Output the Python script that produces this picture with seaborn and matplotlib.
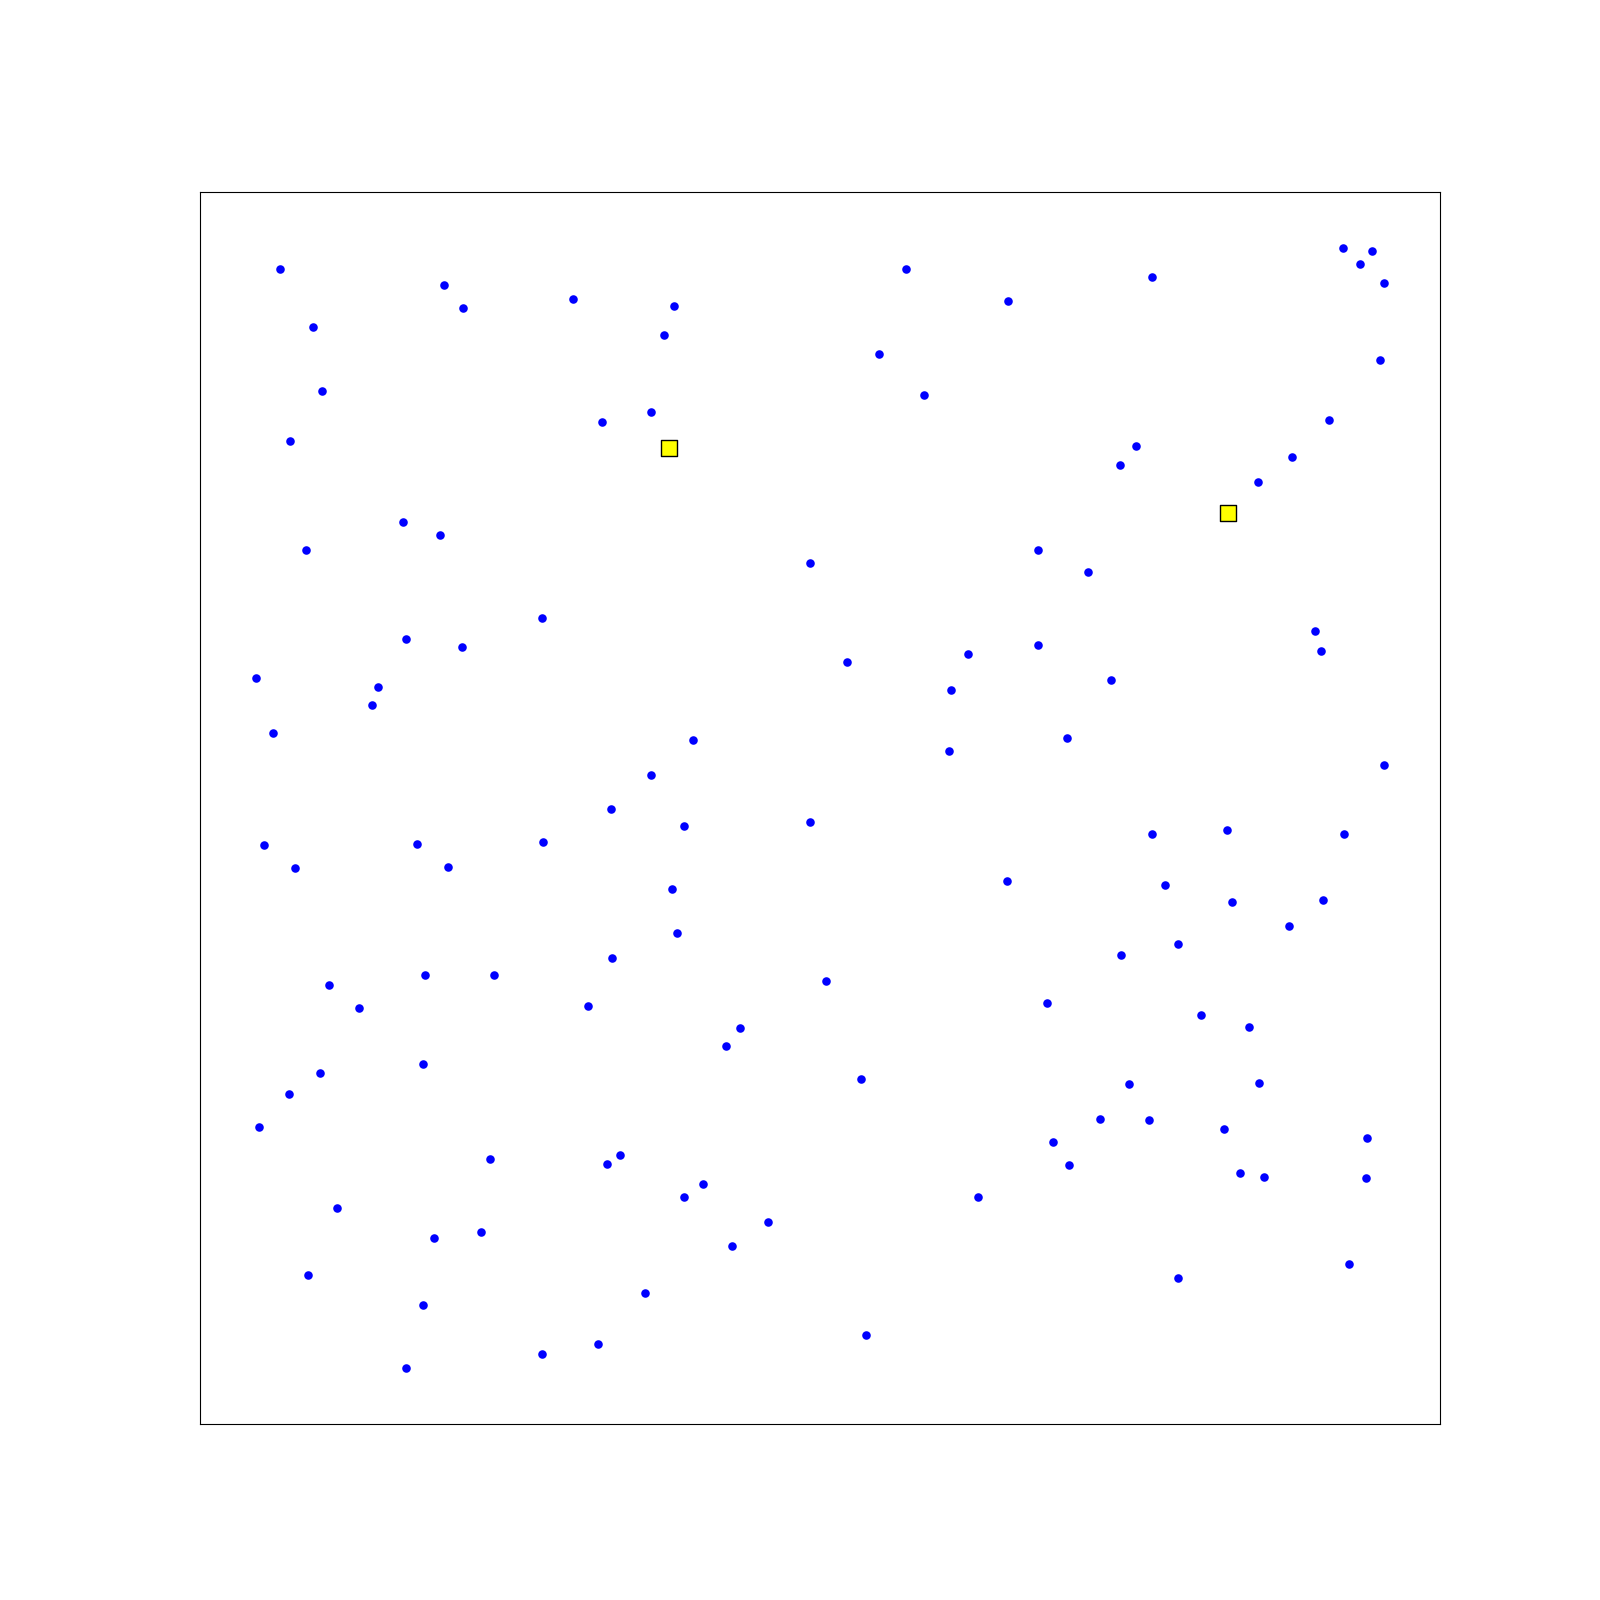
import matplotlib
matplotlib.use("Agg")
import matplotlib.pyplot as plt
import seaborn as sns
import pandas as pd

# scattered points
xs = [23, 184, 203, 310, 409, 400, 56, 64, 33, 339, 387, 637, 737, 878, 610, 654,
      1065, 1094, 1082, 1105, 1101, 1051, 1015, 982, 862, 847, 144, 180, 49, 543,
      766, 815, 280, 147, 202, 0, 119, 113, 579, 698, 766, 681, 838, 1038, 1044, 16,
      428, 795, 679, 387, 1105, 348, 419, 543, 7, 157, 281, 38, 188, 878, 951, 1066,
      736, 891, 407, 956, 1046, 412, 1012, 848, 903, 349, 71, 165, 233, 558, 101, 325,
      775, 926, 973, 474, 460, 62, 163, 32, 593, 855, 983, 3, 827, 875, 949, 1089,
      781, 229, 356, 344, 797, 964, 988, 1088, 438, 419, 707, 79, 502, 220, 174, 466,
      1071, 51, 903, 381, 163, 598, 335, 280, 147]
ys = [1077, 1062, 1039, 1048, 1041, 1013, 1021, 958, 909, 927, 937, 1077, 1046, 1070,
      994, 954, 1098, 1095, 1082, 1064, 988, 929, 893, 869, 904, 885, 829, 817, 802,
      789, 802, 780, 735, 715, 707, 676, 668, 650, 692, 700, 709, 665, 674, 723, 703,
      623, 616, 618, 605, 581, 591, 548, 531, 535, 513, 514, 516, 490, 491, 524, 527,
      524, 477, 474, 470, 457, 459, 426, 433, 405, 416, 402, 375, 385, 385, 379, 353,
      355, 358, 346, 334, 333, 316, 289, 298, 269, 283, 278, 279, 236, 244, 243, 234,
      225, 222, 205, 209, 200, 199, 191, 187, 186, 180, 168, 168, 157, 143, 133, 127,
      120, 102, 91, 88, 74, 62, 32, 24, 14, 0]

# highlighted squares
sq_x = [404, 952]
sq_y = [902, 838]

df = pd.DataFrame({"x": xs, "y": ys})
sq = pd.DataFrame({"x": sq_x, "y": sq_y})

fig, ax = plt.subplots(figsize=(16, 16), dpi=100)
sns.scatterplot(data=df, x="x", y="y", color="blue", s=38, linewidth=0, ax=ax)
sns.scatterplot(data=sq, x="x", y="y", color="yellow", marker="s", s=130,
                edgecolor="black", linewidth=1.0, ax=ax)

ax.set_xticks([])
ax.set_yticks([])
ax.set_xlabel("")
ax.set_ylabel("")

plt.savefig("out.png")
plt.close()
